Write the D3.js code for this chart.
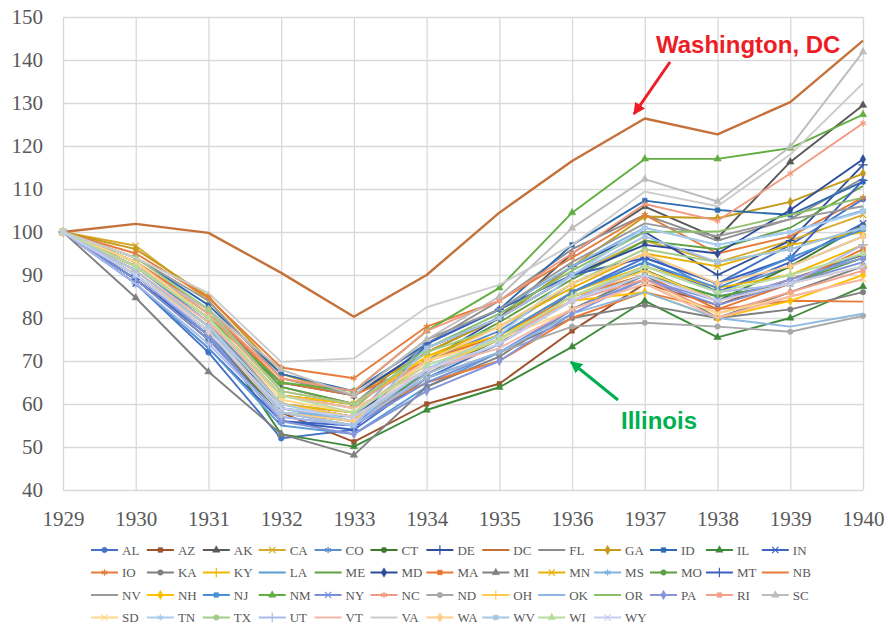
<!DOCTYPE html>
<html>
<head>
<meta charset="utf-8">
<script src="https://cdn.jsdelivr.net/npm/d3@7"></script>
<style>
  body { margin: 0; background: #fff; }
  svg { display: block; }
</style>
</head>
<body>
<svg id="chart" width="888" height="629"></svg>
<script>
const years = [1929, 1930, 1931, 1932, 1933, 1934, 1935, 1936, 1937, 1938, 1939, 1940];
const yTicks = [40, 50, 60, 70, 80, 90, 100, 110, 120, 130, 140, 150];

const states = ['AL','AZ','AK','CA','CO','CT','DE','DC','FL','GA','ID','IL','IN',
  'IO','KA','KY','LA','ME','MD','MA','MI','MN','MS','MO','MT','NB',
  'NV','NH','NJ','NM','NY','NC','ND','OH','OK','OR','PA','RI','SC',
  'SD','TN','TX','UT','VT','VA','WA','WV','WI','WY'];

// series values, 1929..1940
const AL = [100, 88.0, 72.0, 52.0, 54.0, 66.0, 74.0, 86.0, 94.0, 88.0, 97.0, 107.6];
const AZ = [100, 89.0, 76.0, 58.0, 51.2, 60.0, 64.7, 77.0, 88.0, 83.0, 89.0, 94.7];
const AK = [100, 92.0, 80.0, 62.0, 60.0, 72.0, 80.0, 95.0, 105.9, 98.6, 116.3, 129.5];
const CA = [100, 96.8, 84.0, 66.0, 62.0, 72.0, 80.0, 90.0, 98.0, 93.0, 98.0, 104.0];
const CO = [100, 92.0, 79.0, 60.0, 58.0, 70.0, 77.0, 88.0, 95.0, 86.0, 92.0, 99.0];
const CT = [100, 89.0, 75.0, 58.0, 56.0, 67.0, 75.0, 85.0, 91.2, 84.0, 92.0, 101.6];
const DE = [100, 90.0, 77.0, 60.0, 57.0, 70.0, 80.0, 92.0, 100.0, 90.0, 98.0, 115.6];
const DC = [100, 101.9, 99.8, 90.5, 80.3, 90.0, 104.5, 116.5, 126.4, 122.7, 130.2, 144.5];
const FL = [100, 93.0, 82.0, 64.0, 60.0, 74.0, 84.0, 96.0, 104.0, 98.0, 103.0, 112.5];
const GA = [100, 96.0, 85.0, 67.0, 62.0, 72.0, 80.0, 92.0, 103.6, 103.2, 107.0, 113.6];
const ID = [100, 94.0, 83.0, 67.0, 63.0, 74.0, 82.0, 97.0, 107.3, 105.1, 104.0, 111.7];
const IL = [100, 91.0, 78.0, 53.0, 50.1, 58.6, 63.9, 73.3, 84.0, 75.5, 80.0, 87.3];
const IN = [100, 88.0, 73.0, 56.0, 55.0, 68.0, 76.0, 86.0, 93.0, 86.0, 93.0, 102.0];
const IO = [100, 95.0, 84.7, 68.5, 66.0, 78.0, 84.0, 94.0, 104.0, 95.0, 99.0, 108.0];
const KA = [100, 90.0, 76.0, 58.0, 55.0, 66.0, 72.0, 80.0, 83.0, 80.0, 82.0, 86.0];
const KY = [100, 91.0, 78.0, 60.0, 58.0, 70.0, 76.0, 86.0, 92.0, 87.0, 90.0, 97.0];
const LA = [100, 88.0, 73.0, 55.0, 53.0, 64.0, 72.0, 82.0, 90.0, 85.0, 88.0, 95.0];
const ME = [100, 93.0, 81.0, 64.0, 60.0, 70.0, 79.0, 89.0, 98.0, 96.0, 101.0, 110.7];
const MD = [100, 92.0, 80.0, 65.0, 62.0, 73.0, 80.0, 90.0, 97.0, 95.0, 105.1, 116.9];
const MA = [100, 93.0, 82.0, 65.0, 62.0, 70.0, 76.0, 85.0, 90.0, 82.0, 88.0, 96.0];
const MI = [100, 84.7, 67.5, 53.0, 48.1, 64.0, 71.0, 82.0, 90.0, 80.0, 86.0, 92.0];
const MN = [100, 92.0, 80.0, 62.0, 60.0, 71.0, 78.0, 87.0, 95.0, 92.0, 97.0, 100.0];
const MS = [100, 90.0, 77.0, 58.0, 57.0, 74.0, 82.0, 92.0, 101.0, 97.0, 100.0, 105.0];
const MO = [100, 90.0, 77.0, 59.0, 57.0, 67.0, 74.0, 84.0, 90.0, 85.0, 88.0, 94.0];
const MT = [100, 89.0, 76.0, 56.0, 54.0, 74.0, 82.0, 90.0, 94.0, 88.0, 94.0, 112.0];
const NB = [100, 91.0, 78.0, 60.0, 57.0, 65.0, 70.0, 80.0, 86.0, 82.0, 84.0, 83.8];
const NV = [100, 94.0, 84.0, 66.0, 62.0, 75.0, 82.0, 93.0, 102.0, 99.0, 103.0, 106.0];
const NH = [100, 93.0, 80.0, 62.0, 60.0, 71.0, 76.0, 84.0, 86.0, 80.0, 84.0, 90.0];
const NJ = [100, 90.0, 76.0, 59.0, 56.0, 68.0, 76.0, 86.0, 93.0, 87.0, 94.0, 100.6];
const NM = [100, 93.0, 80.0, 65.0, 63.0, 77.0, 87.0, 104.5, 117.0, 117.0, 119.5, 127.3];
const NY = [100, 89.0, 75.0, 57.0, 55.0, 65.0, 72.0, 82.0, 89.0, 83.0, 88.0, 93.0];
const NC = [100, 92.0, 82.0, 66.0, 63.0, 77.0, 84.0, 95.0, 106.5, 102.6, 113.6, 125.3];
const ND = [100, 92.0, 80.0, 60.0, 57.0, 66.0, 72.0, 78.0, 78.9, 78.0, 76.8, 80.5];
const OH = [100, 91.0, 78.0, 60.0, 57.0, 68.0, 75.0, 85.0, 91.0, 84.0, 88.0, 92.0];
const OK = [100, 90.0, 77.0, 59.0, 56.0, 66.0, 72.0, 81.0, 86.0, 80.0, 78.0, 81.0];
const OR = [100, 92.0, 80.0, 62.0, 59.0, 73.0, 81.0, 91.0, 100.0, 100.1, 104.0, 108.0];
const PA = [100, 90.0, 76.0, 56.0, 53.0, 63.0, 70.0, 81.0, 89.0, 84.0, 89.0, 94.0];
const RI = [100, 93.0, 81.0, 63.0, 60.0, 70.0, 75.0, 84.0, 89.0, 81.0, 86.0, 91.0];
const SC = [100, 92.0, 82.0, 68.0, 62.0, 75.0, 85.0, 100.9, 112.3, 107.1, 119.8, 141.9];
const SD = [100, 93.0, 80.0, 61.0, 58.0, 70.0, 75.0, 82.0, 88.0, 81.0, 85.0, 89.0];
const TN = [100, 90.0, 78.0, 60.0, 56.0, 68.0, 76.0, 90.0, 100.9, 97.0, 100.0, 104.7];
const TX = [100, 94.0, 82.0, 63.0, 60.0, 72.0, 78.0, 88.0, 96.0, 93.0, 96.0, 101.0];
const UT = [100, 88.0, 74.0, 57.0, 55.0, 67.0, 74.0, 84.0, 92.0, 86.0, 88.0, 97.0];
const VT = [100, 91.0, 79.0, 62.0, 59.0, 68.0, 73.0, 82.0, 88.0, 80.0, 85.0, 89.0];
const VA = [100, 94.0, 85.8, 69.8, 70.6, 82.5, 87.7, 97.0, 109.4, 106.0, 118.0, 134.6];
const WA = [100, 91.0, 77.0, 58.0, 56.0, 70.0, 78.0, 88.0, 95.0, 88.0, 92.0, 99.0];
const WV = [100, 91.0, 78.0, 58.0, 55.0, 73.0, 80.0, 90.0, 99.0, 93.0, 96.0, 101.0];
const WI = [100, 92.0, 80.0, 62.0, 58.0, 69.0, 75.0, 85.0, 92.0, 86.0, 90.0, 95.0];
const WY = [100, 90.0, 77.0, 59.0, 57.0, 68.0, 74.0, 84.0, 90.0, 84.0, 88.0, 92.0];

const seriesValues = [AL, AZ, AK, CA, CO, CT, DE, DC, FL, GA, ID, IL, IN,
  IO, KA, KY, LA, ME, MD, MA, MI, MN, MS, MO, MT, NB,
  NV, NH, NJ, NM, NY, NC, ND, OH, OK, OR, PA, RI, SC,
  SD, TN, TX, UT, VT, VA, WA, WV, WI, WY];

const colors = ['#4472c4','#a0522d','#595959','#d9aa2a','#5b8fd0','#3e7a2e','#2f4f9a','#c5713a','#8c8c8c','#c49a1c','#2e6cb0','#3f8a3a','#3c64c0',
  '#e57c3c','#7f7f7f','#f0b800','#5b9bd5','#5fa040','#2c4c9c','#e8762e','#808080','#e6b000','#7fb3e0','#5aa040','#3b5fc0','#e87b35',
  '#9a9a9a','#ffc000','#4a90d8','#62ae42','#7a8fd8','#f29a80','#a8a8a8','#ffca50','#8db8e2','#8cbf6a','#8796da','#f5a08a','#bdbdbd',
  '#ffd88a','#a9cdee','#a3cc8a','#aab8ea','#f7b7a8','#cccccc','#ffcc88','#a7c4e5','#b8dca0','#c8ccf0'];

const markers = ['circle','square','triangle','x','asterisk','circle','plus','none','none',
  'diamond','square','triangle','x','asterisk','circle','plus','none','none',
  'diamond','square','triangle','x','asterisk','circle','plus','none','none',
  'diamond','square','triangle','x','asterisk','circle','plus','none','none',
  'diamond','square','triangle','x','asterisk','circle','plus','none','none',
  'diamond','square','triangle','x'];

const svg = d3.select('#chart');
const plotLeft = 63, plotRight = 863, plotTop = 17, plotBottom = 490;

const x = d3.scalePoint().domain(years).range([plotLeft, plotRight]);
const y = d3.scaleLinear().domain([40, 150]).range([plotBottom, plotTop]);

// grid + tick labels
const yAxis = svg.append('g')
  .attr('transform', 'translate(' + plotLeft + ',0)')
  .call(d3.axisLeft(y).tickValues(yTicks).tickSize(-(plotRight - plotLeft)).tickPadding(20));
const xAxis = svg.append('g')
  .attr('transform', 'translate(0,' + plotBottom + ')')
  .call(d3.axisBottom(x).tickSize(-(plotBottom - plotTop)).tickPadding(21));

[yAxis, xAxis].forEach(a => {
  a.select('.domain').remove();
  a.selectAll('.tick line').attr('stroke', '#d9d9d9').attr('stroke-width', 1.3);
  a.selectAll('.tick text')
    .attr('fill', '#595959')
    .style('font-family', '"Liberation Serif", "Times New Roman", serif')
    .style('font-size', '21px');
});

const symbolTypes = {
  circle: [d3.symbolCircle, 24, true],
  square: [d3.symbolSquare, 22, true],
  triangle: [d3.symbolTriangle, 24, true],
  diamond: [d3.symbolDiamond, 26, true],
  x: [d3.symbolX, 28, false],
  asterisk: [d3.symbolAsterisk, 30, false],
  plus: [d3.symbolPlus, 30, false]
};

function drawMarker(sel, kind, color) {
  if (kind === 'none') return;
  const [type, size, filled] = symbolTypes[kind];
  sel.attr('d', d3.symbol().type(type).size(size))
    .attr('fill', filled ? color : 'none')
    .attr('stroke', color)
    .attr('stroke-width', filled ? 0.5 : 1.2);
}

const line = d3.line().x((d, i) => x(years[i])).y(d => y(d));

const series = states.map((s, i) => ({ name: s, values: seriesValues[i], color: colors[i], marker: markers[i] }));

const plot = svg.append('g');
series.forEach(s => {
  const g = plot.append('g');
  g.append('path')
    .attr('d', line(s.values))
    .attr('fill', 'none')
    .attr('stroke', s.color)
    .attr('stroke-width', s.name === 'DC' ? 2.4 : 1.9)
    .attr('stroke-linejoin', 'round');
  if (s.marker !== 'none') {
    g.selectAll('path.pt').data(s.values).join('path')
      .attr('class', 'pt')
      .attr('transform', (d, i) => 'translate(' + x(years[i]) + ',' + y(d) + ')')
      .call(drawMarker, s.marker, s.color);
  }
});

// legend
const legend = svg.append('g');
series.forEach((s, i) => {
  const g = legend.append('g')
    .attr('transform', 'translate(' + (91 + 55.9 * (i % 13)) + ',' + (550 + 22.5 * Math.floor(i / 13)) + ')');
  g.append('line').attr('x1', 0).attr('x2', 27).attr('y1', 0).attr('y2', 0)
    .attr('stroke', s.color).attr('stroke-width', 2);
  if (s.marker !== 'none') {
    g.append('path').attr('transform', 'translate(13.5,0)').call(drawMarker, s.marker, s.color);
  }
  g.append('text').attr('x', 31).attr('y', 0).attr('dy', '0.35em')
    .attr('fill', '#595959')
    .style('font-family', '"Liberation Serif", "Times New Roman", serif')
    .style('font-size', '13px')
    .text(s.name);
});

// annotations
const defs = svg.append('defs');
[['arrRed', '#ee1c25'], ['arrGreen', '#00b050']].forEach(([id, c]) => {
  defs.append('marker').attr('id', id)
    .attr('viewBox', '0 0 10 10').attr('refX', 9).attr('refY', 5)
    .attr('markerWidth', 4).attr('markerHeight', 4).attr('orient', 'auto')
    .append('path').attr('d', 'M0,0 L10,5 L0,10 z').attr('fill', c);
});

svg.append('line').attr('x1', 670).attr('y1', 62).attr('x2', 634).attr('y2', 114)
  .attr('stroke', '#ee1c25').attr('stroke-width', 3).attr('marker-end', 'url(#arrRed)');
svg.append('text').attr('x', 656).attr('y', 53)
  .attr('fill', '#ee1c25')
  .style('font-family', '"Liberation Sans", Arial, sans-serif')
  .style('font-weight', 'bold').style('font-size', '24px')
  .text('Washington, DC');

svg.append('line').attr('x1', 618).attr('y1', 400).attr('x2', 571).attr('y2', 362)
  .attr('stroke', '#00b050').attr('stroke-width', 3).attr('marker-end', 'url(#arrGreen)');
svg.append('text').attr('x', 621).attr('y', 429)
  .attr('fill', '#00b050')
  .style('font-family', '"Liberation Sans", Arial, sans-serif')
  .style('font-weight', 'bold').style('font-size', '24px')
  .text('Illinois');
</script>
</body>
</html>
